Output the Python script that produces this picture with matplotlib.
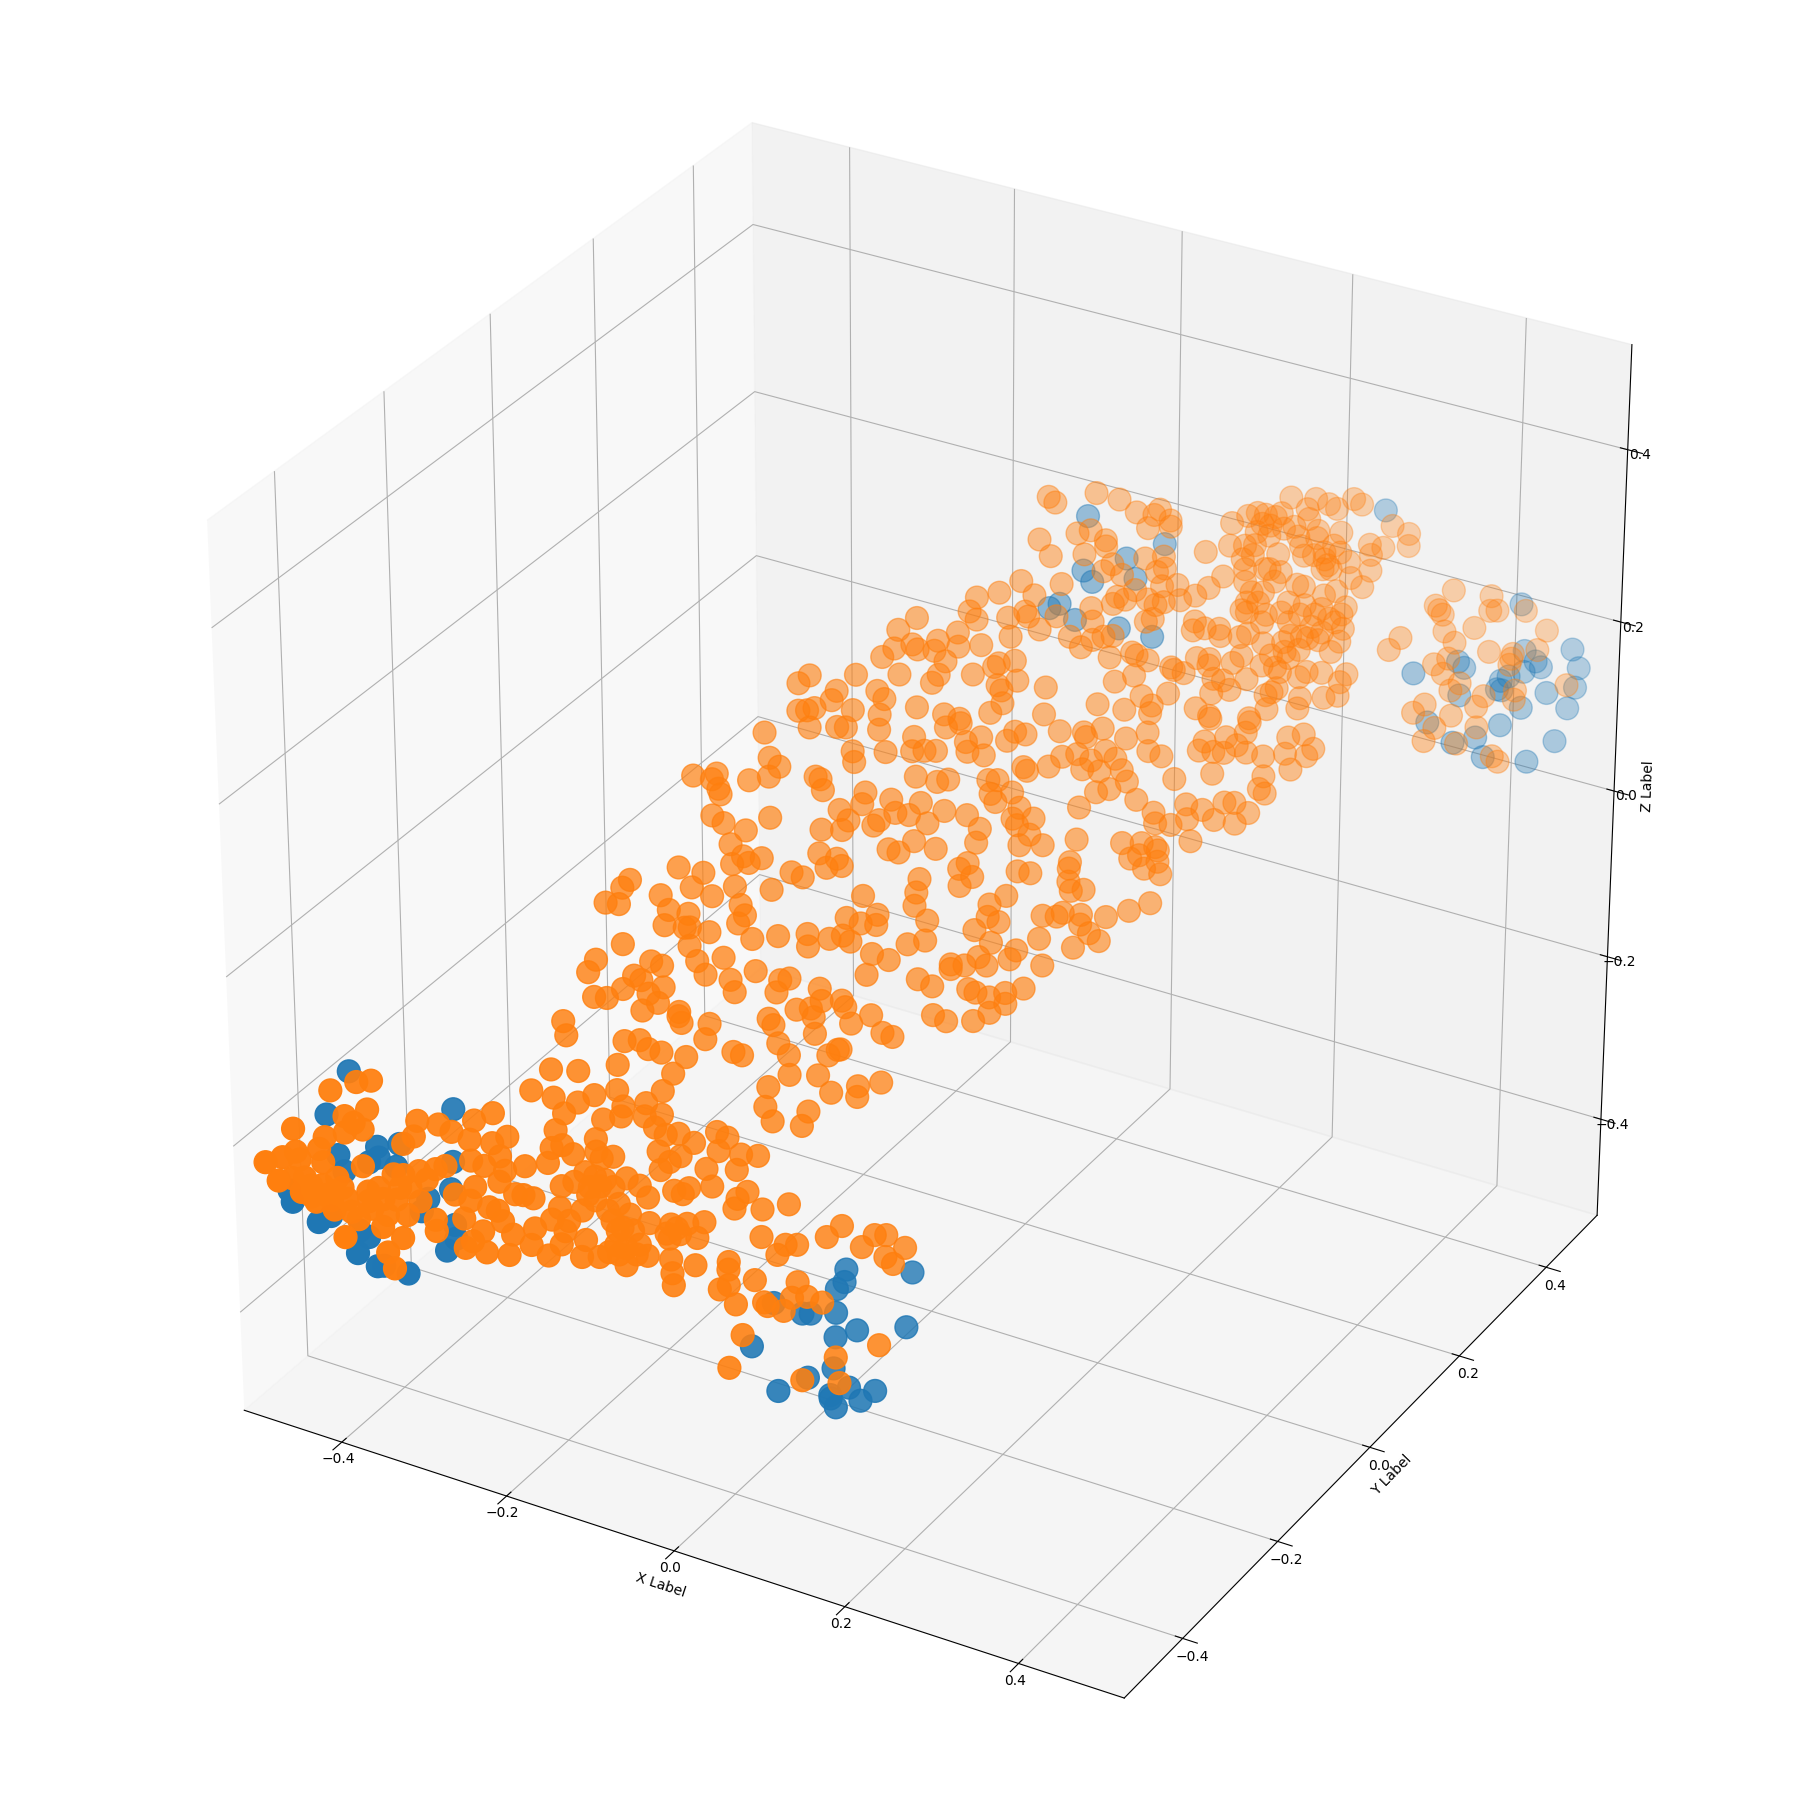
import numpy as np
import matplotlib
matplotlib.use('Agg')
import matplotlib.pyplot as plt

# point values, in thousandths of an axis unit
orange_x = [-409,-397,-427,-446,-408,-392,-399,-403,-390,-418,-458,-446,-437,-419,-432,-412,-442,-432,-396,-415,-420,-399,-406,-389,-379,-360,-367,-382,-367,-359,-345,-344,-347,-353,-349,-331,-318,-303,-290,-301,-282,-272,-294,-282,-272,-249,-232,-233,-225,-214,-235,-233,-225,-214,-246,-266,-256,-234,-254,-205,-193,-184,-172,-151,-204,-157,-160,-197,-170,-187,-186,-200,-167,-154,-200,-156,-145,-135,-120,-146,-134,-127,-139,-196,-181,-190,-199,-205,-214,-313,-320,-333,-324,-352,-342,-335,-323,-329,-305,-301,-297,-283,-283,-266,-265,-264,-249,-233,-242,-283,-258,-251,-264,-269,-273,-255,-236,-239,-223,-221,-204,-197,-212,-198,-209,-190,-190,-183,-172,-164,-151,-141,-170,-151,-163,-133,-122,-111,-114,-115,-102,-90,-112,-105,-156,-144,-134,-125,-179,-177,-163,-148,-139,-105,-100,-95,-84,-372,-326,-334,-324,-198,
    -141,-115,-107,-81,-69,-54,-63,-37,-31,-29,-40,-76,-24,-4,-2,13,-73,-63,-37,-38,9,0,-105,-95,-98,-79,-65,-78,-103,-93,-69,-63,-69,-46,-26,-89,-39,-17,-8,-21,14,23,45,52,61,80,67,75,-58,-56,-57,-51,-32,-40,3,-18,-14,0,3,15,29,-26,-27,35,56,66,87,
    -182,-147,-125,-118,-90,-105,-101,-78,-171,-160,-166,-181,-227,-211,-209,-203,-200,-128,-123,-118,-200,-189,-169,-153,-99,-83,-82,-60,-53,-89,-64,-67,-91,-108,-177,-164,-170,-157,-148,-212,-191,-196,-177,-161,-131,-120,-109,-103,-93,-87,-81,-48,-39,-55,-219,-248,-252,-261,-250,-208,-191,-207,-190,-186,-169,-151,-145,-148,-132,-112,-89,-85,-70,-60,-52,-62,-49,-38,-36,-31,-16,-29,-235,-252,-255,-181,-170,-150,-160,-207,-197,-217,-210,-222,-243,-232,-190,-200,-190,-200,-120,-138,-131,-98,-91,-97,-63,-58,-76,-65,-42,-37,-60,-14,-96,-261,-170,-169,-165,-142,-90,-28,
    -37,-26,-60,-47,-38,-57,-47,-28,-20,-16,-12,-5,2,17,21,30,57,77,91,80,113,129,135,147,66,78,38,42,58,86,91,100,110,119,101,126,114,104,164,139,95,13,20,19,25,36,46,61,44,49,62,57,76,-35,-14,6,20,21,-24,-41,-30,-10,20,15,28,20,-14,-13,-11,4,8,-5,63,74,102,103,104,107,112,122,61,50,52,62,45,62,85,82,56,65,36,37,47,110,100,13,27,57,64,76,88,102,91,81,36,48,70,96,112,108,127,129,139,149,130,148,165,180,140,156,151,157,168,171,165,174,180,157,161,174,181,186,196,208,212,220,226,234,195,236,242,236,193,176,178,188,197,194,205,209,215,230,247,256,245,257,265,269,209,176,
    -20,-13,18,-15,-1,14,24,26,16,-18,-32,-49,-3,-51,-43,-18,-6,-2,11,21,38,50,57,47,52,-92,-104,-54,-50,-68,-88,-82,-101,-109,-68,-56,-32,-10,-90,-58,-61,-30,-15,-12,0,8,-7,-2,2,33,-125,-162,-169,-136,-137,-103,-95,-149,-161,-154,-117,-94,-66,-42,-28,-5,39,80,
    38,56,71,74,86,70,88,124,142,137,148,160,162,162,171,175,178,199,195,211,219,230,238,199,210,189,195,229,269,285,288,256,268,260,264,250,262,244,227,227,223,224,205,184,156,163,171,161,181,191,145,165,214,208,233,242,182,173,172,170,175,191,203,219,231,244,254,253,258,232,241,255,259,217,217,228,197,176,182,183,202,214,236,219,241,253,274,271,273,262,214,218,221,194,243,244,219,207,135,136,145,157,160,147,158,159,178,167,175,183,169,161,174,134,113,124,125,103,101,87,129,132,141,93,108,97,76,72,65,100,95,117,128,137,95,90,110,98,98,104,90,77,72,63,62,51,46,76,91,39,41,64,
    338,371,328,332,336,374,380,403,366,342,308,302,354,426,385,424,405,405,405,353,343,353,370,364,347,340,362,372,390,393,417,419,458,396,357,384,417,423,
    -422,-411,-406,-394,-389,-375,-364,-353,-345,-343,-191,-183,-181,-163,-153,-144,-153,-157,-134,-190,-109,-116,
    162,177,189,181,206,220,235,250,232,242,213,222,207,213,221,234,231,181,200,211,155,169,154,190,212,227]
orange_y = [-424,-416,-443,-482,-448,-432,-446,-456,-444,-469,-514,-502,-492,-478,-493,-482,-516,-507,-482,-500,-509,-496,-505,-499,-462,-464,-472,-487,-490,-478,-481,-444,-419,-429,-409,-399,-396,-378,-364,-390,-379,-367,-399,-394,-381,-372,-357,-348,-341,-339,-337,-324,-311,-298,-322,-331,-310,-295,-284,-255,-246,-245,-240,-228,-270,-243,-258,-283,-273,-288,-294,-305,-281,-270,-319,-280,-278,-270,-266,-290,-289,-280,-298,-325,-318,-325,-341,-352,-361,-416,-423,-433,-433,-449,-460,-446,-447,-461,-448,-453,-425,-410,-419,-412,-394,-385,-391,-383,-387,-431,-409,-411,-427,-438,-445,-435,-424,-412,-397,-407,-403,-390,-383,-374,-373,-362,-351,-340,-333,-321,-318,-319,-347,-337,-350,-330,-301,-291,-298,-319,-310,-311,-327,-319,-352,-356,-347,-347,-374,-385,-375,-363,-364,-336,-342,-348,-325,-507,-475,-490,-494,-381,
    -208,-198,-195,-169,-169,-144,-178,-147,-139,-137,-162,-197,-164,-146,-151,-130,-208,-211,-186,-197,-101,-105,-247,-244,-256,-245,-236,-255,-271,-277,-269,-260,-275,-260,-243,-299,-274,-265,-258,-274,-238,-224,-223,-210,-203,-199,-215,-214,-305,-309,-324,-317,-299,-322,-276,-305,-305,-298,-287,-278,-273,-333,-357,-322,-293,-303,-262,
    -22,6,22,27,44,18,14,36,-31,-31,-41,-54,-84,-75,-69,-76,-77,-15,-14,-18,-93,-90,-81,-61,-18,5,-3,16,12,-18,-1,-7,-27,-38,-97,-95,-106,-96,-86,-138,-126,-140,-133,-116,-96,-76,-73,-51,-54,-44,-45,-10,-6,-48,-161,-171,-179,-196,-189,-164,-155,-174,-164,-161,-152,-122,-124,-132,-132,-116,-98,-104,-88,-79,-78,-68,-63,-49,-55,-72,-65,-86,-207,-230,-240,-170,-174,-157,-175,-200,-196,-216,-214,-229,-249,-243,-205,-217,-216,-229,-146,-164,-168,-136,-130,-145,-119,-124,-142,-133,-112,-114,-136,-103,-162,-278,-209,-212,-213,-198,-163,-118,
    84,94,61,59,66,52,42,51,59,87,83,98,91,111,120,125,146,159,172,158,180,195,186,191,135,144,107,107,122,140,149,162,164,161,148,159,145,136,187,155,118,81,87,75,74,88,85,87,75,75,77,66,79,31,41,51,52,43,25,18,9,17,28,20,23,12,-8,-16,-23,-24,-35,-47,52,58,101,86,82,76,72,80,33,19,12,16,-2,1,11,3,-13,-13,-33,-35,-25,19,30,-58,-54,-35,-33,-27,-16,-4,-21,-35,-68,-63,-48,44,56,51,66,61,61,63,45,79,95,111,125,136,122,129,142,142,125,136,131,158,154,162,181,174,187,189,203,209,199,212,165,230,231,239,212,215,223,223,228,238,240,251,241,249,263,258,273,283,274,281,259,238,
    258,259,287,231,229,256,265,249,221,200,181,166,200,155,155,174,187,186,186,202,199,200,211,226,220,122,106,137,131,122,106,106,93,83,115,116,145,165,84,106,98,125,141,145,156,147,134,133,128,160,59,32,22,40,32,63,63,19,8,13,39,52,77,89,95,116,146,181,
    298,301,310,316,316,299,313,320,337,350,363,359,374,367,378,383,397,410,400,415,417,432,434,396,395,384,381,408,441,446,440,418,424,413,405,390,392,397,397,384,385,379,375,360,338,346,365,334,348,353,318,327,359,356,366,375,333,326,318,311,313,323,333,342,351,357,373,366,360,343,340,341,351,326,315,324,307,297,303,288,295,301,310,302,317,326,339,331,323,314,282,287,292,279,300,293,275,261,279,273,281,289,286,262,268,264,279,260,265,264,252,235,239,227,211,212,207,194,217,203,242,242,246,227,232,229,212,225,219,256,251,281,292,303,289,282,288,278,265,271,263,261,250,241,261,261,252,283,294,269,266,248,
    443,461,424,424,424,453,457,474,435,417,388,375,416,476,431,460,444,441,437,405,394,394,398,390,368,357,361,377,396,406,427,421,459,386,348,366,380,381,
    -500,-505,-494,-496,-484,-490,-476,-467,-472,-452,-346,-349,-334,-338,-348,-343,-360,-367,-353,-338,-318,-326,
    352,346,344,325,342,350,358,358,335,346,319,314,305,381,388,397,383,377,378,391,370,371,346,317,332,332]
orange_z = [-131,-130,-136,-165,-157,-153,-163,-170,-169,-173,-190,-187,-183,-182,-190,-193,-205,-204,-206,-211,-215,-219,-224,-231,-198,-216,-218,-223,-240,-232,-247,-207,-177,-182,-165,-169,-175,-167,-162,-182,-186,-182,-199,-204,-197,-206,-205,-193,-191,-199,-179,-166,-158,-153,-153,-146,-130,-133,-104,-111,-111,-119,-122,-127,-130,-140,-153,-150,-162,-163,-171,-173,-172,-172,-188,-182,-188,-188,-196,-201,-210,-206,-216,-198,-203,-204,-214,-221,-224,-202,-204,-205,-212,-206,-226,-217,-229,-239,-244,-253,-225,-220,-231,-237,-217,-209,-228,-232,-229,-245,-240,-249,-256,-263,-268,-273,-276,-260,-256,-269,-278,-270,-250,-252,-241,-244,-232,-226,-227,-221,-227,-237,-246,-250,-254,-258,-233,-232,-236,-260,-260,-272,-271,-268,-262,-276,-274,-284,-268,-281,-282,-281,-290,-288,-299,-308,-294,-253,-257,-268,-281,-260,
    -114,-126,-129,-121,-131,-115,-147,-133,-129,-129,-149,-155,-163,-159,-168,-158,-171,-183,-177,-188,-122,-118,-189,-194,-204,-208,-210,-220,-218,-232,-243,-238,-251,-253,-250,-260,-275,-282,-283,-290,-278,-270,-288,-279,-280,-291,-297,-303,-293,-299,-314,-311,-309,-327,-313,-327,-330,-335,-325,-325,-330,-352,-377,-391,-374,-395,-367,
    129,131,130,129,126,110,101,108,108,101,93,91,98,94,98,86,81,91,89,80,65,58,51,60,63,76,67,69,58,54,53,49,47,48,41,30,25,25,28,25,19,8,0,7,2,15,11,29,17,24,18,29,26,-7,3,17,11,0,-2,-9,-13,-21,-24,-24,-29,-8,-17,-23,-36,-35,-35,-45,-40,-38,-43,-24,-29,-23,-31,-54,-60,-70,-34,-45,-55,-39,-51,-50,-63,-49,-53,-60,-64,-70,-75,-76,-71,-75,-83,-88,-62,-68,-78,-71,-70,-80,-79,-89,-95,-95,-90,-95,-102,-103,-101,-93,-91,-94,-100,-102,-106,-109,
    124,127,118,107,106,107,86,81,82,112,104,115,100,111,118,115,116,114,116,110,107,111,96,91,95,97,89,86,88,84,91,98,91,82,82,72,67,65,72,57,54,80,79,69,62,69,56,47,48,42,34,26,25,65,57,53,41,30,48,56,34,27,14,10,3,-4,4,-7,-18,-30,-46,-48,5,3,28,10,5,-6,-13,-13,-14,-20,-30,-35,-40,-51,-58,-65,-62,-69,-66,-70,-68,-72,-50,-77,-83,-87,-90,-95,-92,-89,-101,-107,-106,-112,-113,-32,-30,-33,-33,-41,-48,-55,-59,-36,-32,-27,23,22,10,12,18,15,1,6,-4,46,37,35,51,39,46,37,51,50,33,41,21,60,56,70,74,94,101,92,91,103,96,106,90,86,87,74,100,102,84,90,114,119,
    306,301,307,272,258,275,277,258,235,239,231,228,227,217,210,210,214,210,199,209,192,183,188,214,203,214,205,201,189,195,193,189,191,184,187,178,189,195,169,167,161,166,171,174,175,159,156,152,141,152,171,173,167,159,152,157,150,146,145,145,143,138,142,135,131,134,130,136,
    300,289,286,290,281,276,276,254,258,276,281,268,281,274,279,282,294,292,284,287,283,290,285,276,266,270,262,263,266,259,249,252,249,244,231,226,218,239,253,237,242,234,246,249,246,249,264,238,237,234,233,228,221,223,213,216,218,219,211,205,203,200,201,199,198,194,202,197,185,188,177,167,175,182,169,170,177,183,186,168,159,157,148,153,152,150,148,142,131,130,135,137,140,149,131,123,124,117,198,191,192,191,185,168,167,162,163,151,149,141,139,128,121,141,140,132,126,130,157,153,162,160,157,176,169,173,173,190,190,202,200,216,219,225,242,240,228,228,213,215,218,226,219,216,239,248,243,251,252,268,263,221,
    211,205,200,196,192,193,193,191,180,178,175,166,169,174,160,159,157,153,148,156,152,144,136,130,120,114,101,110,116,124,127,120,129,99,91,87,75,70,
    -204,-219,-211,-223,-214,-234,-226,-225,-238,-217,-226,-237,-221,-241,-260,-263,-273,-279,-282,-218,-263,-267,
    257,237,227,210,209,206,202,191,179,183,177,164,167,246,248,247,234,269,254,260,283,272,257,194,193,181]

blue_x = [-418,-423,-373,-356,-402,-369,-352,-375,-392,-323,-308,-302,-317,-431,-425,-398,-390,-363,-353,-358,-338,-333,-311,-287,-288,-283,-319,
    39,41,37,43,16,23,-10,65,50,104,93,-15,57,39,19,75,97,88,62,70,63,
    18,30,40,13,20,37,
    88,61,259,75,105,74,
    398,453,463,414,426,432,419,408,402,406,403,329,369,362,466,444,427,465,373,354,415,398,381,464,410,447]
blue_y = [-423,-457,-445,-431,-470,-449,-444,-457,-475,-384,-410,-424,-442,-514,-518,-514,-504,-495,-494,-507,-503,-499,-490,-457,-440,-446,-451,
    -243,-250,-258,-270,-289,-285,-300,-267,-283,-238,-207,-334,-299,-318,-341,-300,-287,-300,-314,-317,-315,
    270,240,240,202,210,211,
    301,272,445,232,246,267,
    474,480,475,452,453,453,441,430,417,419,423,377,409,409,462,443,421,448,392,361,400,380,364,424,374,397]
blue_z = [-122,-155,-183,-182,-188,-192,-200,-195,-201,-157,-199,-221,-227,-214,-223,-240,-236,-249,-254,-267,-278,-278,-285,-269,-249,-260,-237,
    -305,-315,-320,-339,-338,-338,-328,-354,-358,-354,-311,-361,-383,-389,-398,-399,-403,-410,-404,-414,-407,
    289,245,235,216,219,205,
    262,252,279,196,188,235,
    197,158,142,159,150,145,142,139,129,128,136,146,148,153,127,124,113,110,126,105,100,91,88,84,75,69]

tick_values = [-0.4, -0.2, 0.0, 0.2, 0.4]
axis_limit = 0.52

# the lists were read against a +-0.5 box, this puts them on the real axis range
unit = 0.00104
x_shift = 0.004
y_shift = 0.002

fig = plt.figure(figsize=(18.14, 18.14), dpi=100)
ax = fig.add_axes([0.0, 0.0, 1.0, 1.0], projection='3d', computed_zorder=False)
ax.set_box_aspect((1, 1, 1), zoom=0.9415)

ax.scatter(np.array(blue_x) * unit + x_shift, np.array(blue_y) * unit + y_shift, np.array(blue_z) * unit, s=270, color='C0')
ax.scatter(np.array(orange_x) * unit + x_shift, np.array(orange_y) * unit + y_shift, np.array(orange_z) * unit, s=270, color='C1')

ax.set_xlim(-axis_limit, axis_limit)
ax.set_ylim(-axis_limit, axis_limit)
ax.set_zlim(-axis_limit, axis_limit)
ax.set_xticks(tick_values)
ax.set_yticks(tick_values)
ax.set_zticks(tick_values)
ax.tick_params(axis='x', pad=-3)
ax.tick_params(axis='y', pad=-1)
ax.tick_params(axis='z', pad=-2)
ax.set_xlabel('X Label', labelpad=-4)
ax.set_ylabel('Y Label', labelpad=-4)
ax.set_zlabel('Z Label', labelpad=-4)

fig.savefig('out.png', dpi=100)
